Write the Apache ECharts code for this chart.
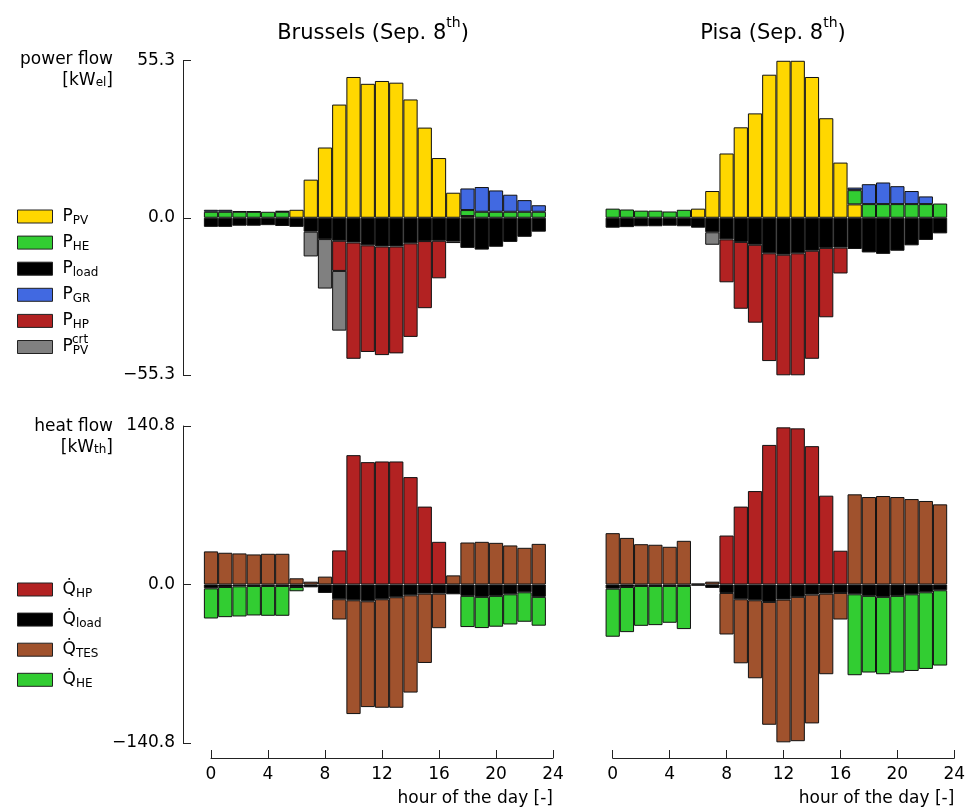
<!DOCTYPE html>
<html>
<head>
<meta charset="utf-8">
<script src="https://cdn.jsdelivr.net/npm/echarts@6/dist/echarts.min.js"></script>
<style>html,body{margin:0;padding:0;background:#fff}#c{width:972px;height:811px}</style>
</head>
<body>
<div id="c"></div>
<script>
// ---- data (hour of the day) ----
const hours = [0,1,2,3,4,5,6,7,8,9,10,11,12,13,14,15,16,17,18,19,20,21,22,23];
const axisCats = [0,1,2,3,4,5,6,7,8,9,10,11,12,13,14,15,16,17,18,19,20,21,22,23,24];
const powerLim = 55.3;
const heatLim = 140.8;

// Brussels power flow [kW_el]
const bru_P_PV   = [0,0,0,0,0,0,2.8,13.4,24.7,39.8,49.5,47.1,48.1,47.5,41.6,31.7,21.0,8.8,0.6,0,0,0,0,0];
const bru_P_HE   = [2.1,2.1,2.1,2.1,2.1,2.1,0,0,0,0,0,0,0,0,0,0,0,0,2.1,2.1,2.1,2.1,2.1,2.1];
const bru_P_GR   = [0.7,0.7,0.2,0.1,0,0.3,0,0,0,0,0,0,0,0,0,0,0,0,7.6,8.7,7.5,6.0,4.1,2.3];
const bru_P_load = [-3.2,-3.2,-2.8,-2.8,-2.6,-2.9,-3.2,-4.9,-7.5,-8.1,-8.7,-9.7,-10.1,-10.1,-9.0,-8.2,-8.1,-8.4,-10.6,-11.2,-10.2,-8.5,-6.7,-4.9];
const bru_P_HP   = [0,0,0,0,0,0,0,0,0,-10.6,-40.9,-37.5,-38.2,-37.6,-32.9,-23.6,-13.2,-0.5,0,0,0,0,0,0];
const bru_P_crt  = [0,0,0,0,0,0,0,-8.7,-17.4,-21.0,0,0,0,0,0,0,0,0,0,0,0,0,0,0];

// Pisa power flow [kW_el]
const pis_P_PV   = [0,0,0,0,0,0,3.2,9.4,22.6,31.8,36.7,50.3,55.2,55.2,49.5,35.0,19.4,4.7,0,0,0,0,0,0];
const pis_P_HE   = [3.2,2.9,2.5,2.5,2.2,2.8,0,0,0,0,0,0,0,0,0,0,0,5.0,4.8,4.8,4.8,4.8,4.8,5.0];
const pis_P_GR   = [0,0,0,0,0,0,0,0,0,0,0,0,0,0,0,0,0,0.9,7.0,7.6,6.3,4.6,2.7,0];
const pis_P_load = [-3.5,-3.3,-3.0,-3.0,-2.8,-3.0,-3.5,-5.1,-7.6,-8.5,-9.5,-12.5,-13.0,-12.5,-11.6,-10.6,-10.5,-11.0,-12.2,-12.7,-11.6,-9.7,-7.8,-5.5];
const pis_P_HP   = [0,0,0,0,0,0,0,0,-15.1,-23.5,-27.4,-37.9,-42.4,-42.9,-38.0,-24.4,-9.1,0,0,0,0,0,0,0];
const pis_P_crt  = [0,0,0,0,0,0,0,-4.4,0,0,0,0,0,0,0,0,0,0,0,0,0,0,0,0];

// Brussels heat flow [kW_th]
const bru_Q_HP   = [0,0,0,0,0,0,0,0,0,30.3,114.9,108.7,109.3,109.3,95.4,69.2,37.9,0,0,0,0,0,0,0];
const bru_Q_load = [-3.4,-2.2,-1.6,-1.3,-1.3,-1.3,-2.2,-2.5,-7.5,-13.1,-14.0,-14.9,-13.1,-11.3,-9.6,-8.1,-8.1,-8.7,-10.1,-11.0,-10.1,-8.7,-6.9,-11.0];
const bru_Q_TES  = [29.4,28.2,27.6,26.7,27.3,27.3,5.5,2.5,7.0,-18.0,-101.1,-94.0,-96.4,-98.2,-86.4,-61.6,-30.7,8.1,37.3,37.9,37.0,34.7,32.6,36.1];
const bru_Q_HE   = [-26.8,-26.8,-26.8,-26.2,-26.5,-26.5,-3.8,0,0,0,0,0,0,0,0,0,0,0,-27.7,-27.7,-27.4,-26.8,-26.2,-25.6];

// Pisa heat flow [kW_th]
const pis_Q_HP   = [0,0,0,0,0,0,0,0,43.5,69.2,83.0,124.0,139.6,138.7,122.9,78.9,30.0,0,0,0,0,0,0,0];
const pis_Q_load = [-3.7,-2.2,-1.3,-1.3,-1.3,-1.3,-1.0,-3.0,-7.5,-13.1,-14.0,-15.5,-13.4,-11.0,-9.0,-8.1,-7.5,-8.7,-10.1,-11.0,-10.1,-8.7,-6.9,-5.1];
const pis_Q_TES  = [45.6,41.4,35.8,35.3,33.5,38.8,0.8,2.5,-36.9,-56.9,-69.3,-109.1,-126.8,-128.2,-114.4,-71.6,-23.6,80.1,77.7,78.6,77.7,75.9,74.2,71.2];
const pis_Q_HE   = [-42.7,-40.1,-35.4,-34.8,-32.7,-38.3,0,0,0,0,0,0,0,0,0,0,0,-71.9,-68.1,-68.7,-68.1,-68.1,-68.1,-66.9];

// ---- styling ----
const FONT = 'DejaVu Sans';
const FS = 17;
const COL = {
  P_PV:'#FFD700', P_HE:'#32CD32', P_load:'#000000', P_GR:'#4169E1', P_HP:'#B22222', P_crt:'#808080',
  Q_HP:'#B22222', Q_load:'#000000', Q_TES:'#A0522D', Q_HE:'#32CD32'
};
const LABEL = {
  P_PV:'{m|P}{s|PV}', P_HE:'{m|P}{s|HE}', P_load:'{m|P}{s|load}', P_GR:'{m|P}{s|GR}', P_HP:'{m|P}{s|HP}', P_crt:'{m|P}{s|PV}',
  Q_HP:'{m|Q\u0307}{s|HP}', Q_load:'{m|Q\u0307}{s|load}', Q_TES:'{m|Q\u0307}{s|TES}', Q_HE:'{m|Q\u0307}{s|HE}'
};

const G = [
  {left:211, top:60.5, width:342, height:314.5},
  {left:612.7, top:60.5, width:341.6, height:314.5},
  {left:211, top:426, width:342, height:317},
  {left:612.7, top:426, width:341.6, height:317}
];

function mk(name, vals, gi) {
  return {
    type:'bar', name, xAxisIndex:gi, yAxisIndex:gi, stack:'s'+gi,
    barWidth: G[gi].width/24, clip:false, animation:false,
    itemStyle:{color:COL[name], borderColor:'#111', borderWidth:1},
    emphasis:{disabled:true},
    data: vals.map(v => v===0 ? '-' : v)
  };
}

const series = [
  mk('P_PV', bru_P_PV, 0), mk('P_HE', bru_P_HE, 0), mk('P_GR', bru_P_GR, 0),
  mk('P_load', bru_P_load, 0), mk('P_HP', bru_P_HP, 0), mk('P_crt', bru_P_crt, 0),
  mk('P_PV', pis_P_PV, 1), mk('P_HE', pis_P_HE, 1), mk('P_GR', pis_P_GR, 1),
  mk('P_load', pis_P_load, 1), mk('P_HP', pis_P_HP, 1), mk('P_crt', pis_P_crt, 1),
  mk('Q_HP', bru_Q_HP, 2), mk('Q_load', bru_Q_load, 2), mk('Q_TES', bru_Q_TES, 2), mk('Q_HE', bru_Q_HE, 2),
  mk('Q_HP', pis_Q_HP, 3), mk('Q_load', pis_Q_load, 3), mk('Q_TES', pis_Q_TES, 3), mk('Q_HE', pis_Q_HE, 3)
];

const fmtY = v => (v < 0 ? '\u2212' + Math.abs(v).toFixed(1) : v.toFixed(1));
const axisLineStyle = {color:'#222', width:1};

function xAx(gi, show) {
  return {
    type:'category', gridIndex:gi, data:axisCats.map(String), boundaryGap:false,
    show: show, offset:15,
    axisLine:{show:true, onZero:false, lineStyle:axisLineStyle},
    axisTick:{show:true, inside:true, length:8, interval:3, lineStyle:axisLineStyle},
    axisLabel:{show:true, interval:3, fontFamily:FONT, fontSize:FS, color:'#000', margin:8},
    splitLine:{show:false},
    name:'hour of the day [-]', nameLocation:'end', nameGap:0,
    nameTextStyle:{fontFamily:FONT, fontSize:FS, color:'#000', align:'right', verticalAlign:'top', padding:[32,0,0,0]}
  };
}
function yAx(gi, lim, show) {
  return {
    type:'value', gridIndex:gi, min:-lim, max:lim, interval:lim, show:show, offset:28,
    axisLine:{show:true, onZero:false, lineStyle:axisLineStyle},
    axisTick:{show:true, inside:true, length:8, lineStyle:axisLineStyle},
    axisLabel:{show:true, fontFamily:FONT, fontSize:FS, color:'#000', margin:8, formatter:fmtY},
    splitLine:{show:false}
  };
}

const legendRich = {
  m:{fontFamily:FONT, fontSize:FS, color:'#000', padding:[0,0,0,5], lineHeight:20},
  s:{fontFamily:FONT, fontSize:12, color:'#000', verticalAlign:'bottom', lineHeight:20}
};
const titleRich = {
  t:{fontFamily:FONT, fontSize:21, fontWeight:'normal', color:'#000', lineHeight:28, verticalAlign:'bottom'},
  u:{fontFamily:FONT, fontSize:14, fontWeight:'normal', color:'#000', verticalAlign:'top', lineHeight:28}
};
const nameRich = {
  a:{fontFamily:FONT, fontSize:FS, color:'#000', lineHeight:20, verticalAlign:'bottom'},
  s:{fontFamily:FONT, fontSize:12, color:'#000', lineHeight:20, verticalAlign:'bottom'}
};

const option = {
  backgroundColor:'#fff',
  animation:false,
  title:[
    {text:'{t|Brussels (Sep. 8}{u|th}{t|)}', left:368, top:11, textAlign:'center',
     textStyle:{fontWeight:'normal', rich:titleRich}},
    {text:'{t|Pisa (Sep. 8}{u|th}{t|)}', left:768, top:11, textAlign:'center',
     textStyle:{fontWeight:'normal', rich:titleRich}}
  ],
  grid: G.map(g=>Object.assign({containLabel:false}, g)),
  xAxis:[xAx(0,false), xAx(1,false), xAx(2,true), xAx(3,true)],
  yAxis:[yAx(0,powerLim,true), yAx(1,powerLim,false), yAx(2,heatLim,true), yAx(3,heatLim,false)],
  legend:[
    {orient:'vertical', left:12, top:203, itemWidth:35, itemHeight:13, itemGap:7.6, icon:'rect',
     selectedMode:false,
     data:['P_PV','P_HE','P_load','P_GR','P_HP','P_crt'],
     itemStyle:{borderColor:'#222', borderWidth:1},
     formatter:n=>LABEL[n], textStyle:{rich:legendRich}},
    {orient:'vertical', left:12, top:576, itemWidth:35, itemHeight:13, itemGap:11.6, icon:'rect',
     selectedMode:false,
     data:['Q_HP','Q_load','Q_TES','Q_HE'],
     itemStyle:{borderColor:'#222', borderWidth:1},
     formatter:n=>LABEL[n], textStyle:{rich:legendRich}}
  ],
  graphic:[
    {type:'text', right:859, top:51, style:{text:'power flow', font:FS+'px "DejaVu Sans"', fill:'#000'}},
    {type:'text', right:859, top:72, style:{text:'{a|[kW}{s|el}{a|]}', fill:'#000', rich:nameRich}},
    {type:'text', right:859, top:418, style:{text:'heat flow', font:FS+'px "DejaVu Sans"', fill:'#000'}},
    {type:'text', right:859, top:439, style:{text:'{a|[kW}{s|th}{a|]}', fill:'#000', rich:nameRich}},
    {type:'text', left:72, top:334, style:{text:'crt', font:'12px "DejaVu Sans"', fill:'#000'}}
  ],
  series: series
};

const chart = echarts.init(document.getElementById('c'), null, {renderer:'canvas'});
chart.setOption(option);
</script>
</body>
</html>
